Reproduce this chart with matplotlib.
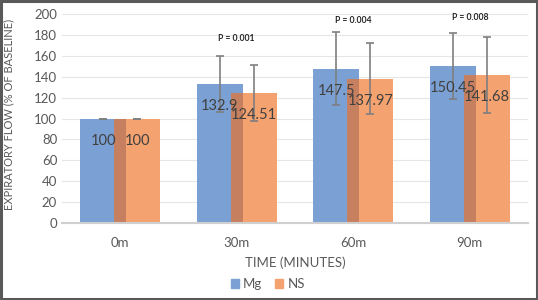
import numpy as np
import matplotlib.pyplot as plt
from matplotlib.patches import Rectangle

plt.rcParams['font.family'] = ['Lato', 'DejaVu Sans']

categories = ["0m", "30m", "60m", "90m"]
mg = [100, 132.9, 147.5, 150.45]
ns = [100, 124.51, 137.97, 141.68]
mg_err = [0, 27, 35, 31.5]
ns_err = [0, 26.5, 34, 36.5]
mg_labels = ["100", "132.9", "147.5", "150.45"]
ns_labels = ["100", "124.51", "137.97", "141.68"]
p_values = ["", "P = 0.001", "P = 0.004", "P = 0.008"]
p_heights = [0, 177, 194, 197]

blue = "#7BA0D3"
orange = "#F4A26F"
overlap = "#C7805F"
text_col = "#595959"

fig = plt.figure(figsize=(5.38, 3.0), dpi=100)
ax = fig.add_axes([62 / 538, 1 - 223 / 300, 466 / 538, 209 / 300])

x = np.arange(len(categories))
w = 0.395
off = 0.146

ax.bar(x - off, mg, w, color=blue, zorder=2)
ax.bar(x + off, ns, w, color=orange, zorder=2)
# darker band where the two bars overlap
ov_left = x + off - w / 2
ov_right = x - off + w / 2
ax.bar((ov_left + ov_right) / 2, np.minimum(mg, ns), ov_right - ov_left,
       color=overlap, zorder=2)

ax.errorbar(x - off, mg, yerr=mg_err, fmt="none", ecolor="#7f7f7f",
            elinewidth=1.2, capsize=3, capthick=1.2, zorder=3)
ax.errorbar(x + off, ns, yerr=ns_err, fmt="none", ecolor="#7f7f7f",
            elinewidth=1.2, capsize=3, capthick=1.2, zorder=3)

for i in range(len(categories)):
    ax.annotate(mg_labels[i], (x[i] - off, mg[i]), xytext=(0, -16),
                textcoords="offset points", ha="center", va="center",
                fontsize=10.5, color="#404040", zorder=4)
    ax.annotate(ns_labels[i], (x[i] + off, ns[i]), xytext=(0, -16),
                textcoords="offset points", ha="center", va="center",
                fontsize=10.5, color="#404040", zorder=4)
    if p_values[i]:
        ax.text(x[i], p_heights[i], p_values[i], ha="center", va="center",
                fontsize=6.2, fontweight="bold", color="#262626")

ax.set_xlim(-0.5, len(categories) - 0.5)
ax.set_ylim(0, 200)
ax.set_yticks(np.arange(0, 201, 20))
ax.set_xticks(x)
ax.set_xticklabels(categories)
ax.tick_params(axis="both", length=0, labelsize=9.5, colors=text_col)
ax.tick_params(axis="x", pad=10)
ax.grid(axis="y", color="#e6e6e6", linewidth=0.8, zorder=0)
ax.set_axisbelow(True)
for s in ["top", "right", "left"]:
    ax.spines[s].set_visible(False)
ax.spines["bottom"].set_color("#d0d0d0")
ax.spines["bottom"].set_linewidth(1.5)

ax.set_ylabel("EXPIRATORY FLOW (% OF BASELINE)", fontsize=8, color=text_col)
ax.yaxis.set_label_coords(-48 / 466, 0.52)
fig.text(295 / 538, 1 - 263 / 300, "TIME (MINUTES)", ha="center", va="center",
         fontsize=9.5, color=text_col)

handles = [Rectangle((0, 0), 1, 1, color=blue), Rectangle((0, 0), 1, 1, color=orange)]
fig.legend(handles, ["Mg", "NS"], loc="center", bbox_to_anchor=(268 / 538, 1 - 284 / 300),
           ncol=2, frameon=False, fontsize=9.5, labelcolor=text_col,
           handlelength=0.6, handleheight=0.6, handletextpad=0.3, columnspacing=1.0)

border = Rectangle((0.002, 0.003), 0.996, 0.994, transform=fig.transFigure,
                   fill=False, edgecolor="#595959", linewidth=2.2)
fig.patches.append(border)

fig.savefig("out.png", dpi=100)
